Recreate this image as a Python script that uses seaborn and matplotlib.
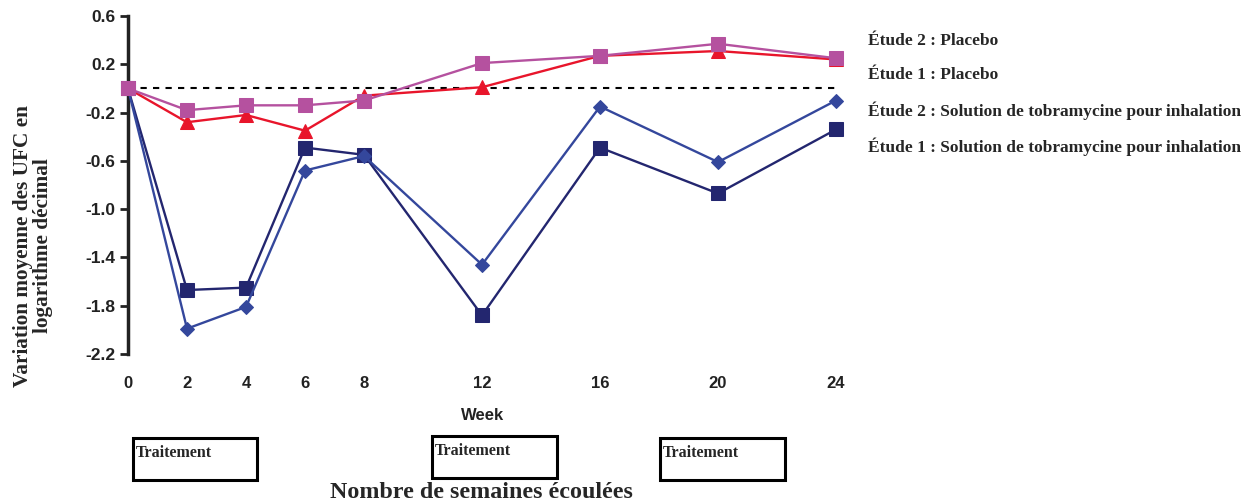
import matplotlib
matplotlib.use("Agg")
import matplotlib.pyplot as plt
from matplotlib.patches import Rectangle
import seaborn as sns
import pandas as pd

# weeks on the x axis
weeks = [0, 2, 4, 6, 8, 12, 16, 20, 24]

# mean change in log10 CFU
study1_tobra = [0, -1.67, -1.65, -0.49, -0.55, -1.88, -0.49, -0.87, -0.34]
study2_tobra = [0, -1.99, -1.81, -0.68, -0.56, -1.46, -0.15, -0.61, -0.10]
study1_placebo = [0, -0.28, -0.22, -0.35, -0.06, 0.01, 0.27, 0.31, 0.24]
study2_placebo = [0, -0.18, -0.14, -0.14, -0.10, 0.21, 0.27, 0.37, 0.25]

legend_labels = [
    "Étude 2 : Placebo",
    "Étude 1 : Placebo",
    "Étude 2 : Solution de tobramycine pour inhalation",
    "Étude 1 : Solution de tobramycine pour inhalation",
]
yticks = [0.6, 0.2, -0.2, -0.6, -1.0, -1.4, -1.8, -2.2]

W, H = 1253, 504
sns.set_style("white")
plt.rcParams["font.family"] = ["Liberation Sans", "DejaVu Sans"]

fig = plt.figure(figsize=(W / 100, H / 100), dpi=100)
# axes placed in pixel units: x=0 at 128px, x=24 at 836px; y 0.6 at 16px, -2.2 at 354px
x_right = 24.5
ax_w = 708 * x_right / 24
ax = fig.add_axes([128 / W, 1 - 354 / H, ax_w / W, 338 / H])

# series drawn bottom to top
series = [
    (study1_tobra, "#23266F", "s", 10),
    (study2_tobra, "#34479C", "D", 7.5),
    (study1_placebo, "#E8152B", "^", 10),
    (study2_placebo, "#B5519F", "s", 10),
]

ax.plot([0, 24], [0, 0], color="black", lw=1.5, linestyle=(0, (3, 3)), zorder=1)

for vals, col, mk, ms in series:
    df = pd.DataFrame({"week": weeks, "val": vals})
    sns.lineplot(data=df, x="week", y="val", ax=ax, color=col, marker=mk,
                 markersize=ms, markeredgecolor=col, linewidth=1.7,
                 clip_on=False, zorder=3)

ax.set_xlim(0, x_right)
ax.set_ylim(-2.2, 0.6)
ax.set_xticks(weeks)
ax.set_xticklabels([str(w) for w in weeks], fontsize=12, fontweight="bold")
ax.set_yticks(yticks)
ax.set_yticklabels([f"{t:.1f}" for t in yticks], fontsize=12.5, fontweight="bold")
ax.tick_params(axis="y", length=6, width=2, direction="out", left=True, pad=3, colors="#222222")
ax.tick_params(axis="x", length=0, pad=16, colors="#222222")
for s in ["top", "right", "bottom"]:
    ax.spines[s].set_visible(False)
ax.spines["left"].set_linewidth(2.5)
ax.spines["left"].set_color("#222222")
ax.set_xlabel("")
ax.set_ylabel("")

def fx(x):
    return x / W

def fy(y):
    return 1 - y / H

serif = ["Liberation Serif", "DejaVu Serif"]

# legend as plain text on the right
for lbl, y in zip(legend_labels, [41, 75, 111, 147]):
    fig.text(fx(868), fy(y), lbl, family=serif, fontweight="bold",
             fontsize=12.5, va="center", ha="left")

# y label, two lines
fig.text(fx(33), fy(246), "Variation moyenne des UFC en\nlogarithme décimal",
         family=serif, fontweight="bold", fontsize=15.3, rotation=90,
         va="center", ha="center", linespacing=1.0)

fig.text(fx(483), fy(415), "Week", fontweight="bold", fontsize=12,
         va="center", ha="center", color="#222222")

# treatment boxes
boxes = [(133, 438, 257, 480, 453), (432, 436, 557, 478, 451), (660, 438, 785, 480, 453)]
for x0, y0, x1, y1, ty in boxes:
    fig.patches.append(Rectangle((fx(x0), fy(y1)), (x1 - x0) / W, (y1 - y0) / H,
                                 transform=fig.transFigure, fill=False,
                                 edgecolor="black", linewidth=2.2))
    fig.text(fx(x0 + 3), fy(ty), "Traitement", family=serif, fontweight="bold",
             fontsize=11.5, va="center", ha="left")

fig.text(fx(481), fy(492), "Nombre de semaines écoulées", family=serif,
         fontweight="bold", fontsize=17.3, va="center", ha="center")

fig.savefig("out.png", dpi=100)
